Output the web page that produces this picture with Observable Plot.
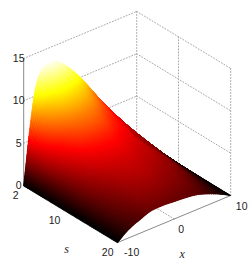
<!DOCTYPE html>
<html><head><meta charset="utf-8">
<style>html,body{margin:0;padding:0;background:#fff}svg{display:block}</style>
<script src="https://cdn.jsdelivr.net/npm/d3@7"></script>
<script src="https://cdn.jsdelivr.net/npm/@observablehq/plot@0.6"></script>
</head><body><div id="chart"></div>
<script>
// values
const xValues = [-10,-9.5,-9,-8,-7,-6,-5,-4,-2,0,2,4,6,8,9,10];
const sValues = [2,2.5,3,4,5,6,8,10,12,14,17,20];
const zRows = [
 [0,3,6,10.6,12.6,13.3,13.4,13,11.7,10,8,5.9,3.9,2,1,0],
 [0,2.6,5.2,8.7,10.3,11,11.5,11.4,10.7,9.4,7.6,5.8,3.85,1.98,1,0],
 [0,2.4,4.7,7.2,8.8,9.6,10.2,10.2,9.8,8.9,7.3,5.7,3.8,1.95,1,0],
 [0,1.9,3.7,5.9,7.2,8.1,8.7,8.9,8.7,8,6.7,5.4,3.7,1.9,.97,0],
 [0,1.5,3.1,4.9,5.9,6.8,7.4,7.7,7.7,7.2,6.1,5.1,3.55,1.85,.95,0],
 [0,1.25,2.5,4.1,5,5.8,6.4,6.8,7,6.6,5.7,4.8,3.4,1.75,.9,0],
 [0,.85,1.7,3.1,3.9,4.5,5,5.3,5.5,5.4,4.85,4.3,3.15,1.6,.82,0],
 [0,.68,1.35,2.5,3.2,3.7,4.1,4.35,4.55,4.6,4.2,3.8,2.9,1.45,.75,0],
 [0,.58,1.15,2.1,2.7,3.1,3.45,3.7,3.95,4,3.7,3.4,2.65,1.3,.68,0],
 [0,.48,.95,1.75,2.25,2.6,2.95,3.25,3.55,3.6,3.3,3,2.35,1.15,.6,0],
 [0,.38,.75,1.4,1.8,2.1,2.4,2.7,2.9,2.85,2.65,2.4,1.8,.92,.48,0],
 [0,.28,.55,1,1.35,1.6,1.9,2.1,2.15,2.05,1.95,1.75,1.3,.72,.38,0]
];
const zTicks = [0,5,10,15];
const hot = ["#000000","#ff0000","#ffff00","#ffffff"];

// oblique view of the box: screen position of a corner and of one step along each axis
const view = {ox:23.2, oy:185, xu:113, xv:-47, su:94, sv:57, zv:-8.47};
const tx = x => (x+10)/20, ts = s => (s-2)/18;
const pu = (x,s) => view.ox + view.xu*tx(x) + view.su*ts(s);
const pv = (x,s,z) => view.oy + view.xv*tx(x) + view.sv*ts(s) + view.zv*z;

// smooth resampling of the read grid so the surface is shaded continuously
function hermite(xs, ys, n){
  const m = ys.map((_,i)=> i===0 ? (ys[1]-ys[0])/(xs[1]-xs[0])
     : i===ys.length-1 ? (ys[i]-ys[i-1])/(xs[i]-xs[i-1])
     : (ys[i+1]-ys[i-1])/(xs[i+1]-xs[i-1]));
  const X=[],Y=[];
  for(let i=0;i<xs.length-1;i++){
    const h=xs[i+1]-xs[i];
    for(let k=0;k<n;k++){
      const t=k/n,t2=t*t,t3=t2*t;
      X.push(xs[i]+h*t);
      Y.push((2*t3-3*t2+1)*ys[i]+(t3-2*t2+t)*h*m[i]+(-2*t3+3*t2)*ys[i+1]+(t3-t2)*h*m[i+1]);
    }
  }
  X.push(xs[xs.length-1]);Y.push(ys[ys.length-1]);
  return [X,Y];
}
const NX=6, NS=8;
const rowsX = zRows.map(r=>hermite(xValues,r,NX));
const fx = rowsX[0][0];
const cols = fx.map((_,j)=>hermite(sValues,rowsX.map(r=>r[1][j]),NS));
const fs = cols[0][0];
const Z = (i,j)=>cols[j][1][i];
const zMax = d3.max(zRows.flat());

// painter's order: far corner (x=10, s=2) to near corner (x=-10, s=20)
const cells=[];
for(let i=0;i<fs.length-1;i++){
  for(let j=fx.length-2;j>=0;j--){
    const c=[[i,j],[i,j+1],[i+1,j+1],[i+1,j]];
    const ring=c.map(([a,b])=>[pu(fx[b],fs[a]),pv(fx[b],fs[a],Z(a,b))]);
    ring.push(ring[0]);
    cells.push({type:"Feature",properties:{z:d3.mean(c,([a,b])=>Z(a,b))},geometry:{type:"Polygon",coordinates:[ring]}});
  }
}
const P=(x,s,z,group)=>({u:pu(x,s),v:pv(x,s,z),group});
const grid=[];
for(const z of [5,10,15]){
  grid.push(P(-10,2,z,"l"+z),P(10,2,z,"l"+z));
  grid.push(P(10,2,z,"r"+z),P(10,20,z,"r"+z));
}
for(const s of [2,10,20]) grid.push(P(10,s,0,"v"+s),P(10,s,15,"v"+s));
grid.push(P(0,20,0,"f0"),P(0,2,0,"f0"));
const axes=[
  P(-10,2,0,"z"),P(-10,2,15,"z"),
  P(-10,20,0,"x"),P(10,20,0,"x"),
  P(-10,2,0,"s"),P(-10,20,0,"s")
];
const off=(p,t,dx,dy,a)=>({u:p.u+dx,v:p.v+dy,t,a});
const labels=[
  ...zTicks.map(z=>off(P(-10,2,z),String(z),-5,0,"end")),
  off(P(-10,2,0),"2",-8,10,"middle"),
  off(P(-10,10,0),"10",-11,10,"middle"),
  off(P(-10,20,0),"20",-10,10,"middle"),
  off(P(-10,20,0),"-10",14,10,"middle"),
  off(P(0,20,0),"0",7,11,"middle"),
  off(P(10,20,0),"10",11,11,"middle")
];
const names=[
  off(P(-10,11,0),"s",-4,35,"middle"),
  off(P(0,20,0),"x",8,35,"middle")
];

const chart=Plot.plot({
  width:249,height:264,margin:0,
  projection:d3.geoIdentity(),
  style:{background:"#fff"},
  color:{type:"linear",domain:[0,.375,.75,1].map(f=>f*zMax),range:hot,clamp:true},
  marks:[
    Plot.line(grid,{x:"u",y:"v",z:"group",stroke:"#a8a8a8",strokeWidth:1,strokeDasharray:"1,2"}),
    Plot.line(axes,{x:"u",y:"v",z:"group",stroke:"#8a8a8a",strokeWidth:1}),
    Plot.geo(cells,{fill:d=>d.properties.z,stroke:d=>d.properties.z,strokeWidth:0.7}),
    Plot.geo(cells,{fill:d=>d.properties.z}),
    Plot.text(labels,{x:"u",y:"v",text:"t",textAnchor:"a",fontSize:10.5,fontFamily:"Liberation Sans",fill:"#222"}),
    Plot.text(names,{x:"u",y:"v",text:"t",fontSize:12,fontFamily:"Liberation Serif",fontStyle:"italic",fill:"#222"})
  ]
});
document.getElementById("chart").append(chart);
</script></body></html>
